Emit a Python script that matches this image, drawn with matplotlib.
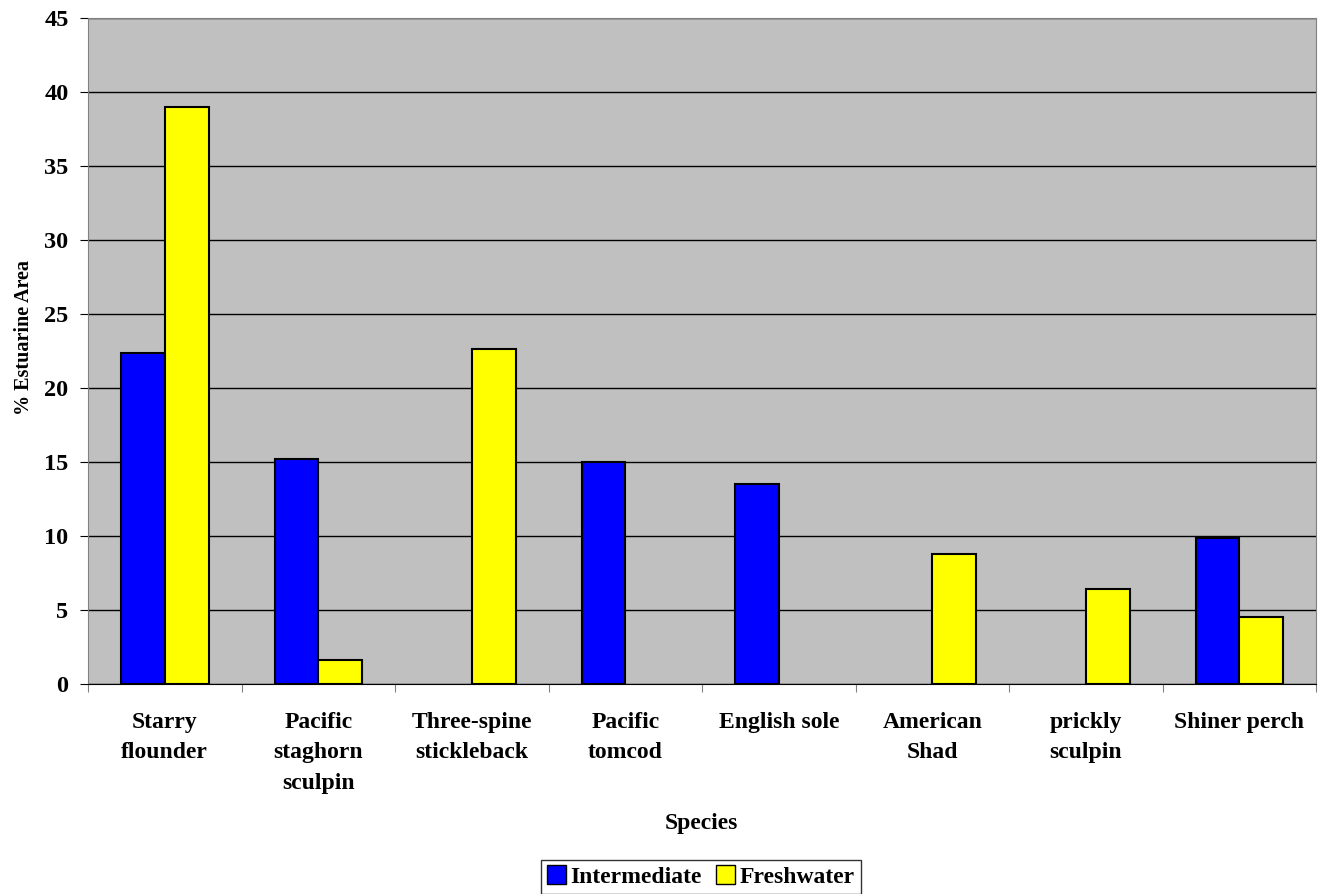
import numpy as np
import matplotlib.pyplot as plt
from matplotlib.patches import Patch

species = ["Starry\nflounder", "Pacific\nstaghorn\nsculpin", "Three-spine\nstickleback",
           "Pacific\ntomcod", "English sole", "American\nShad", "prickly\nsculpin", "Shiner perch"]
intermediate = [22.35, 15.2, 0, 15.0, 13.5, 0, 0, 9.85]
freshwater = [39.0, 1.6, 22.65, 0, 0, 8.75, 6.4, 4.55]

plt.rcParams['font.family'] = ['Liberation Serif', 'DejaVu Serif']
plt.rcParams['font.weight'] = 'bold'

fig = plt.figure(figsize=(13.2, 8.94), dpi=100)
ax = fig.add_axes([0.0667, 0.2349, 0.9303, 0.7451])
ax.set_facecolor('#c0c0c0')

X = np.arange(len(species))
w = 0.285
# zero values get no outline (Excel draws nothing there)
lw_i = [1.5 if v > 0 else 0 for v in intermediate]
lw_f = [1.5 if v > 0 else 0 for v in freshwater]
ax.bar(X - w/2, intermediate, w, color='#0000ff', edgecolor='black', linewidth=lw_i, zorder=3)
ax.bar(X + w/2, freshwater, w, color='#ffff00', edgecolor='black', linewidth=lw_f, zorder=3)

ax.set_xlim(-0.5, len(species) - 0.5)
ax.set_ylim(0, 45)
ax.set_yticks(np.arange(0, 46, 5))
ax.tick_params(axis='y', labelsize=17.5, length=6, direction='out', pad=8)
ax.yaxis.grid(True, color='black', linewidth=1, zorder=1)
ax.set_axisbelow(True)

ax.set_xticks(np.arange(-0.5, len(species), 1))
ax.set_xticklabels([])
ax.set_xticks(X, minor=True)
ax.set_xticklabels(species, minor=True, fontsize=17, fontweight='bold', linespacing=1.6, va='top')
ax.tick_params(axis='x', which='major', length=6, direction='out', color='#808080')
ax.tick_params(axis='x', which='minor', length=0, pad=20)

for s in ax.spines.values():
    s.set_color('#808080')
ax.spines['bottom'].set_color('black')

ax.set_ylabel("% Estuarine Area", fontsize=14.5, fontweight='bold')
ax.yaxis.set_label_coords(-0.044, 0.52)
fig.text(0.531, 0.079, "Species", ha='center', va='center', fontsize=17, fontweight='bold')

handles = [Patch(facecolor='#0000ff', edgecolor='black', label='Intermediate'),
           Patch(facecolor='#ffff00', edgecolor='black', label='Freshwater')]
leg = fig.legend(handles=handles, loc='center', bbox_to_anchor=(0.531, 0.0195), ncol=2,
                 prop={'size': 17, 'weight': 'bold'}, frameon=True, fancybox=False,
                 handlelength=0.8, handleheight=0.8, handletextpad=0.2, columnspacing=0.6,
                 borderpad=0.25, borderaxespad=0, edgecolor='black')
leg.get_frame().set_linewidth(1)

fig.savefig('out.png', dpi=100)
